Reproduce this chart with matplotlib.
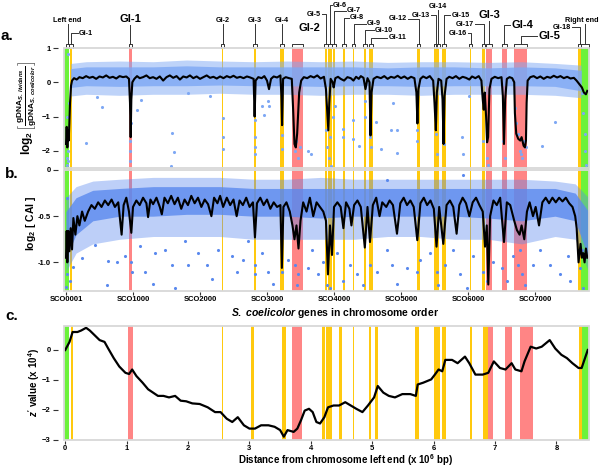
import matplotlib
matplotlib.use("Agg")
import matplotlib.pyplot as plt
from matplotlib.patches import Rectangle
from matplotlib.transforms import blended_transform_factory

plt.rcParams['font.family'] = ['Liberation Sans', 'DejaVu Sans']
plt.rcParams['font.weight'] = 'bold'
plt.rcParams['mathtext.fontset'] = 'custom'
plt.rcParams['mathtext.rm'] = 'Liberation Sans:bold'
plt.rcParams['mathtext.it'] = 'Liberation Sans:italic:bold'
plt.rcParams['mathtext.bf'] = 'Liberation Sans:bold'

# ---- islands: name, kind, gene range (panels a/b), Mb range (panel c)
isl_names = ['Left end', 'Gi-1', 'GI-1', 'Gi-2', 'Gi-3', 'Gi-4', 'GI-2', 'Gi-5', 'Gi-6',
             'Gi-7', 'Gi-8', 'Gi-9', 'Gi-10', 'Gi-11', 'Gi-12', 'Gi-13', 'Gi-14', 'Gi-15',
             'Gi-16', 'Gi-17', 'GI-3', 'GI-4', 'GI-5', 'Gi-18', 'Right end']
isl_kind = ['end', 'gi', 'GI', 'gi', 'gi', 'gi', 'GI', 'gi', 'gi', 'gi', 'gi', 'gi', 'gi',
            'gi', 'gi', 'gi', 'gi', 'gi', 'gi', 'gi', 'GI', 'GI', 'GI', 'gi', 'end']
isl_g0 = [-30, 55, 940, 2325, 2805, 3195, 3375, 3866, 3910, 3985, 4135, 4284, 4450, 4522,
          5240, 5493, 5537, 5612, 6030, 6209, 6269, 6507, 6687, 7642, 7687]
isl_g1 = [45, 90, 985, 2350, 2835, 3255, 3535, 3896, 3965, 4015, 4160, 4300, 4478, 4582,
          5285, 5537, 5567, 5672, 6045, 6254, 6358, 6582, 6881, 7687, 7806]
isl_m0 = [-0.02, 0.093, 1.027, 2.547, 3.03, 3.53, 3.70, 4.18, 4.25, 4.32, 4.46, 4.68, 4.95,
          5.04, 5.70, 6.01, 6.065, 6.13, 6.594, 6.81, 6.88, 7.17, 7.41, 8.37, 8.42]
isl_m1 = [0.062, 0.125, 1.10, 2.572, 3.08, 3.59, 3.86, 4.23, 4.31, 4.35, 4.50, 4.70, 4.975,
          5.10, 5.76, 6.065, 6.10, 6.195, 6.62, 6.88, 6.97, 7.27, 7.62, 8.42, 8.53]
kind_color = {'end': '#6cf23a', 'gi': '#ffc90e', 'GI': '#ff8585'}

# ---- panel a: log2 gDNA ratio, running line
a_gene = [0, 10, 20, 30, 40, 50, 60, 75, 90, 120, 160, 200, 250, 300, 350, 400, 450, 500,
          550, 600, 650, 700, 750, 800, 850, 900, 940, 955, 965, 975, 990, 1020, 1060, 1100,
          1150, 1200, 1250, 1300, 1350, 1400, 1450, 1500, 1550, 1600, 1650, 1700, 1750,
          1800, 1850, 1900, 1950, 2000, 2050, 2100, 2150, 2200, 2250, 2300, 2350, 2400,
          2450, 2500, 2550, 2600, 2650, 2700, 2750, 2800, 2815, 2830, 2870, 2920, 2960,
          3000, 3030, 3060, 3100, 3150, 3200, 3215, 3225, 3240, 3280, 3330, 3370, 3390,
          3410, 3430, 3450, 3480, 3510, 3550, 3600, 3650, 3700, 3750, 3800, 3850, 3880,
          3900, 3915, 3930, 3950, 3980, 3995, 4020, 4060, 4100, 4150, 4200, 4250, 4290,
          4330, 4370, 4400, 4440, 4470, 4500, 4530, 4545, 4560, 4590, 4640, 4700, 4750,
          4800, 4850, 4900, 4950, 5000, 5050, 5100, 5150, 5200, 5230, 5245, 5260, 5290,
          5330, 5380, 5430, 5480, 5500, 5520, 5535, 5560, 5600, 5620, 5635, 5650, 5680,
          5720, 5770, 5820, 5870, 5920, 5970, 6020, 6060, 6110, 6160, 6200, 6220, 6235,
          6250, 6270, 6285, 6300, 6320, 6350, 6400, 6450, 6500, 6520, 6537, 6555, 6580,
          6620, 6660, 6690, 6700, 6720, 6750, 6780, 6800, 6830, 6850, 6865, 6875, 6890,
          6930, 6980, 7030, 7080, 7130, 7180, 7230, 7280, 7330, 7380, 7430, 7480, 7530,
          7580, 7620, 7660, 7700, 7730, 7760, 7780]
a_val = [-1.8, -1.3, -1.9, -1.4, -1.7, -1.2, -0.6, -0.1, 0.05, 0.12, 0.08, 0.15, 0.12,
         0.18, 0.13, 0.16, 0.1, 0.17, 0.14, 0.2, 0.13, 0.16, 0.11, 0.18, 0.15, 0.17, 0.1,
         -0.6, -1.6, -0.5, 0.0, 0.1, 0.18, 0.12, 0.15, 0.2, 0.12, 0.15, 0.1, 0.17, 0.05,
         0.15, 0.2, 0.13, 0.18, 0.08, 0.17, 0.14, 0.2, 0.12, 0.17, 0.1, 0.15, 0.2, 0.13,
         0.16, 0.11, 0.17, 0.12, 0.18, 0.14, 0.19, 0.13, 0.16, 0.12, 0.17, 0.14, 0.1, -1.0,
         0.05, 0.15, 0.12, 0.18, 0.05, -0.2, 0.1, 0.17, 0.14, 0.2, -0.4, -1.25, 0.1, 0.15,
         0.12, 0.1, -0.8, -1.8, -1.9, -1.5, -0.3, 0.05, 0.15, 0.12, 0.18, 0.14, 0.2, 0.11,
         0.16, -0.2, -0.9, -1.4, -0.6, 0.1, 0.0, -0.15, 0.12, 0.16, 0.1, 0.05, 0.15, 0.12,
         0.05, 0.16, 0.1, 0.18, 0.13, -0.2, 0.12, 0.0, -1.55, -0.3, 0.1, 0.16, 0.12, 0.18,
         0.1, 0.16, 0.13, 0.19, 0.12, 0.17, 0.1, 0.16, 0.12, -0.3, -1.2, -0.2, 0.1, 0.17,
         0.12, 0.18, 0.05, -0.6, -1.4, -0.3, 0.1, 0.05, -0.5, -1.8, -0.4, 0.1, 0.16, 0.12,
         0.18, 0.1, 0.16, 0.13, 0.08, 0.17, 0.12, 0.18, 0.05, -0.5, -0.8, -0.3, -1.0, -1.75,
         -1.6, -0.2, 0.1, 0.16, 0.12, 0.15, -0.4, -1.8, -0.5, 0.1, 0.15, 0.12, 0.0, -0.9,
         -1.5, -1.65, -1.7, -1.6, -1.85, -1.9, -1.7, -0.6, 0.05, 0.15, 0.18, 0.12, 0.17,
         0.1, 0.16, 0.13, 0.19, 0.14, 0.18, 0.12, 0.16, 0.11, 0.13, 0.05, -0.05, -0.15,
         -0.3, -0.35, -0.25]

# dense cloud of genes around the running line (envelopes)
a_band_gene = [70, 300, 800, 1300, 1800, 2300, 2800, 3300, 3800, 4300, 4800, 5300, 5800,
               6300, 6800, 7300, 7690]
a_outer_hi = [0.55, 0.6, 0.62, 0.6, 0.65, 0.62, 0.6, 0.62, 0.6, 0.62, 0.58, 0.6, 0.6, 0.58,
              0.6, 0.55, 0.5]
a_outer_lo = [-0.4, -0.35, -0.38, -0.35, -0.35, -0.32, -0.35, -0.35, -0.38, -0.35, -0.35,
              -0.38, -0.35, -0.35, -0.35, -0.38, -0.45]
a_inner_hi = [0.4, 0.45, 0.45, 0.45, 0.48, 0.45, 0.45, 0.45, 0.45, 0.45, 0.42, 0.45, 0.45,
              0.42, 0.45, 0.42, 0.35]
a_inner_lo = [-0.15, -0.1, -0.12, -0.1, -0.1, -0.08, -0.1, -0.1, -0.12, -0.1, -0.1, -0.12,
              -0.1, -0.1, -0.1, -0.12, -0.25]
# scattered genes outside the cloud
a_pt_gene = [25, 10, 20, 30, 15, 40, 25, 35, 300, 542, 470, 960, 962, 958, 965, 1120, 1055,
             1577, 1612, 1570, 1821, 2149, 2340, 2338, 2342, 2820, 2818, 2822, 2825, 2920,
             2960, 3020, 3025, 3225, 3228, 3420, 3460, 3440, 3490, 3612, 3660, 3880, 3900,
             3920, 3940, 3960, 3990, 4020, 4134, 4140, 4284, 4290, 4373, 4460, 4465, 4540,
             4545, 4627, 4701, 4876, 4935, 4850, 4940, 5240, 5245, 5520, 5530, 5640, 5905,
             5930, 6020, 6220, 6290, 6300, 6520, 6545, 6700, 6720, 6740, 6770, 6790, 6810,
             6830, 6860, 7100, 7299, 7700, 7720, 7740, 7750, 7760]
a_pt_val = [0.82, -2.2, -2.4, -2.0, -1.0, -0.6, -2.3, -1.5, -1.77, -0.72, -0.44, -1.7, -2.0,
            -2.3, -1.2, -0.52, -0.81, -1.48, -2.03, -2.44, -0.3, -0.4, -1.05, -1.6, -1.95,
            -1.1, -1.6, -1.9, -2.1, -0.7, -0.95, -0.55, -0.7, -1.55, -1.95, -2.0, -2.2, -1.7,
            -1.9, -2.0, -2.1, -1.4, -1.9, -2.2, -1.6, -2.45, -1.0, -0.7, -1.35, -1.6, -1.1,
            -1.65, -1.85, -0.55, -1.0, -1.6, -1.9, -1.16, -1.95, -0.6, -2.05, -1.4, -1.38,
            -1.4, -1.7, -1.5, -2.1, -1.8, -1.6, -2.1, -0.4, -1.7, -2.2, -2.4, -1.7, -2.2,
            -0.75, -1.2, -1.5, -2.0, -2.1, -2.2, -1.7, -1.9, -1.85, -1.15, -0.3, -0.9, -1.5,
            -2.0, -2.4]

# ---- panel b: log2 CAI, running line
b_gene = [0, 10, 20, 35, 50, 70, 90, 110, 140, 170, 200, 240, 280, 330, 380, 430, 480, 530,
          580, 630, 680, 730, 780, 830, 860, 900, 940, 975, 1000, 1050, 1100, 1150, 1200,
          1225, 1260, 1300, 1350, 1400, 1430, 1470, 1520, 1570, 1620, 1670, 1720, 1770,
          1820, 1870, 1920, 1970, 2020, 2070, 2120, 2170, 2210, 2260, 2300, 2345, 2400,
          2450, 2500, 2547, 2590, 2640, 2690, 2740, 2790, 2820, 2850, 2900, 2950, 3000,
          3050, 3100, 3150, 3200, 3222, 3245, 3290, 3340, 3380, 3410, 3440, 3470, 3500,
          3540, 3590, 3640, 3690, 3740, 3790, 3840, 3880, 3910, 3940, 3970, 4000, 4050,
          4100, 4140, 4180, 4230, 4260, 4300, 4350, 4400, 4460, 4500, 4537, 4580, 4630,
          4680, 4720, 4780, 4830, 4880, 4940, 4990, 5040, 5090, 5140, 5190, 5243, 5290,
          5340, 5390, 5440, 5490, 5530, 5570, 5631, 5680, 5730, 5780, 5830, 5870, 5920,
          5970, 6020, 6070, 6120, 6170, 6220, 6254, 6280, 6303, 6330, 6380, 6430, 6480,
          6537, 6580, 6630, 6690, 6730, 6770, 6800, 6840, 6880, 6920, 6970, 7010, 7060,
          7110, 7160, 7210, 7260, 7310, 7360, 7410, 7460, 7510, 7560, 7600, 7622, 7650,
          7680, 7700, 7720, 7740, 7760, 7780]
b_val = [-0.95, -0.66, -1.0, -0.66, -0.88, -0.63, -0.86, -0.52, -0.7, -0.5, -0.6, -0.45,
         -0.55, -0.45, -0.38, -0.42, -0.35, -0.4, -0.33, -0.38, -0.32, -0.4, -0.35, -0.7,
         -0.38, -0.3, -0.45, -0.68, -0.4, -0.33, -0.38, -0.3, -0.36, -0.51, -0.32, -0.37,
         -0.3, -0.4, -0.48, -0.3, -0.36, -0.28, -0.37, -0.3, -0.42, -0.32, -0.38, -0.28,
         -0.36, -0.3, -0.4, -0.32, -0.37, -0.5, -0.3, -0.36, -0.28, -0.4, -0.3, -0.38,
         -0.32, -0.5, -0.33, -0.38, -0.3, -0.4, -0.35, -0.73, -0.36, -0.3, -0.38, -0.32,
         -0.42, -0.35, -0.4, -0.38, -1.06, -0.4, -0.35, -0.45, -0.6, -0.75, -0.6, -0.85,
         -0.55, -0.35, -0.45, -0.3, -0.5, -0.35, -0.4, -0.45, -0.55, -1.13, -0.6, -0.92,
         -0.4, -0.35, -0.4, -0.63, -0.35, -0.42, -0.6, -0.38, -0.33, -0.4, -0.84, -0.4,
         -0.78, -0.38, -0.3, -0.5, -0.35, -0.4, -0.33, -0.38, -0.69, -0.36, -0.3, -0.38,
         -0.33, -0.4, -0.76, -0.36, -0.3, -0.38, -0.33, -0.42, -0.83, -0.4, -0.8, -0.38,
         -0.33, -0.4, -0.69, -0.38, -0.3, -0.36, -0.5, -0.35, -0.3, -0.38, -0.45, -0.83,
         -0.6, -1.24, -0.5, -0.33, -0.38, -0.3, -0.78, -0.35, -0.38, -0.55, -0.65, -0.7,
         -0.6, -0.75, -0.45, -0.35, -0.5, -0.4, -0.6, -0.35, -0.3, -0.36, -0.3, -0.35,
         -0.3, -0.34, -0.3, -0.36, -0.4, -0.5, -0.63, -1.0, -0.8, -0.95, -0.9, -1.0, -0.85,
         -0.95]

b_band_gene = [0, 150, 400, 800, 1300, 1800, 2300, 2800, 3300, 3800, 4300, 4800, 5300,
               5800, 6300, 6800, 7300, 7600, 7800]
b_outer_hi = [-0.3, -0.18, -0.12, -0.1, -0.08, -0.08, -0.08, -0.1, -0.1, -0.08, -0.1, -0.1,
              -0.1, -0.1, -0.1, -0.1, -0.12, -0.15, -0.3]
b_outer_lo = [-1.1, -0.9, -0.8, -0.75, -0.72, -0.72, -0.72, -0.75, -0.75, -0.75, -0.75,
              -0.72, -0.72, -0.75, -0.75, -0.8, -0.72, -0.75, -1.1]
b_inner_hi = [-0.45, -0.3, -0.22, -0.2, -0.18, -0.18, -0.18, -0.2, -0.2, -0.2, -0.2, -0.2,
              -0.2, -0.2, -0.2, -0.2, -0.2, -0.25, -0.45]
b_inner_lo = [-0.95, -0.7, -0.55, -0.5, -0.5, -0.48, -0.48, -0.5, -0.5, -0.52, -0.5, -0.5,
              -0.5, -0.5, -0.52, -0.55, -0.5, -0.55, -0.95]
b_pt_gene = [10, 10, 0, 60, 110, 235, 433, 632, 607, 756, 880, 970, 980, 1104, 1179, 1303,
             1328, 1477, 1627, 1577, 1776, 1826, 1975, 2100, 2174, 2274, 2473, 2547, 2647,
             2720, 2820, 2825, 2920, 3020, 3095, 3220, 3320, 3420, 3470, 3445, 3617, 3766,
             3667, 3841, 3890, 3940, 4040, 4139, 4239, 4338, 4438, 4537, 4637, 4786, 4860,
             4945, 5085, 5234, 5284, 5433, 5532, 5557, 5657, 5781, 5880, 5980, 6080, 6229,
             6279, 6378, 6503, 6577, 6677, 6752, 6801, 6851, 6776, 6975, 7075, 7224, 7373,
             7522, 7498, 7672, 7721, 7697, 5930, 4786]
b_pt_val = [-0.3, -1.13, -1.27, -1.2, -1.05, -0.95, -0.81, -0.98, -1.24, -1.0, -0.93, -1.0,
            -1.1, -0.82, -1.1, -1.23, -0.9, -0.87, -1.28, -1.03, -0.77, -1.03, -0.9, -1.03,
            -1.18, -0.87, -0.93, -1.1, -0.97, -0.77, -1.03, -1.13, -0.9, -1.1, -1.23, -1.1,
            -0.97, -1.03, -1.13, -1.24, -1.06, -1.13, -0.87, -1.0, -1.24, -1.28, -0.9, -1.2,
            -1.03, -1.13, -1.24, -1.03, -1.1, -0.87, -1.03, -1.23, -1.06, -1.1, -0.97, -0.9,
            -1.1, -1.24, -1.03, -0.87, -1.13, -1.28, -0.93, -1.1, -1.2, -1.0, -1.06, -1.2,
            -0.93, -1.03, -1.13, -1.24, -0.87, -1.03, -0.87, -1.03, -1.13, -1.2, -0.93,
            -1.06, -1.28, -0.87, -0.05, -0.11]
b_tick_gene = [0, 1000, 2000, 3000, 4000, 5000, 6000, 7000]
b_tick_lab = ['SCO0001', 'SCO1000', 'SCO2000', 'SCO3000', 'SCO4000', 'SCO5000',
              'SCO6000', 'SCO7000']

# ---- panel c: cumulative z' value vs. position (Mb)
c_mb = [0.0, 0.07, 0.12, 0.2, 0.26, 0.34, 0.4, 0.48, 0.56, 0.64, 0.70, 0.79, 0.88, 0.98,
        1.04, 1.09, 1.16, 1.26, 1.35, 1.43, 1.51, 1.60, 1.69, 1.79, 1.88, 1.97, 2.07, 2.19,
        2.32, 2.44, 2.53, 2.63, 2.72, 2.81, 2.91, 3.00, 3.09, 3.19, 3.31, 3.41, 3.50, 3.56,
        3.62, 3.72, 3.78, 3.84, 3.90, 3.97, 4.03, 4.09, 4.15, 4.22, 4.28, 4.37, 4.46, 4.56,
        4.65, 4.74, 4.84, 4.93, 5.03, 5.09, 5.18, 5.27, 5.37, 5.49, 5.62, 5.71, 5.74, 5.83,
        5.96, 6.02, 6.08, 6.14, 6.19, 6.30, 6.39, 6.51, 6.58, 6.68, 6.80, 6.89, 6.98, 7.08,
        7.17, 7.27, 7.33, 7.43, 7.48, 7.58, 7.67, 7.76, 7.89, 7.98, 8.08, 8.17, 8.26, 8.36,
        8.41, 8.51]
c_z = [0.0, 0.27, 0.6, 0.6, 0.65, 0.74, 0.65, 0.49, 0.33, 0.27, 0.05, -0.27, -0.55, -0.76,
       -0.80, -0.65, -0.87, -1.09, -1.31, -1.42, -1.53, -1.53, -1.58, -1.53, -1.69, -1.71,
       -1.78, -1.80, -1.91, -2.07, -2.07, -2.29, -2.40, -2.24, -2.51, -2.62, -2.62, -2.51,
       -2.51, -2.56, -2.67, -2.89, -2.67, -2.73, -2.62, -2.34, -2.02, -1.96, -2.07, -2.40,
       -2.45, -2.24, -1.91, -1.85, -1.85, -1.74, -1.85, -1.96, -2.07, -1.85, -1.58, -1.20,
       -1.42, -1.53, -1.58, -1.47, -1.47, -1.53, -1.15, -1.09, -0.98, -0.82, -0.65, -0.71,
       -0.33, -0.33, -0.44, -0.22, -0.44, -0.82, -0.82, -0.76, -0.38, -0.60, -0.65, -0.44,
       -0.65, -0.71, -0.38, 0.11, 0.05, 0.11, 0.33, 0.05, -0.16, -0.27, -0.44, -0.60,
       -0.60, 0.0]

# ---- label layout above panel a (pixel rows of the figure)
lab_x = [15, 190, 962, 2337, 2820, 3225, 3470, 3800, 3985, 4195, 4240, 4495, 4615, 4810,
         5090, 5430, 5552, 5750, 5985, 6090, 6313, 6645, 7045, 7535, 7700]
lab_y = [20, 33, 19, 20, 20, 20, 28, 14, 5, 10.5, 17.5, 23.5, 30, 37.5, 18.5, 15, 6, 15, 33,
         24, 15, 25, 36, 27, 20]
lab_style = ['up', 'side', 'up', 'up', 'up', 'up', 'none', 'side', 'side', 'side', 'side',
             'side', 'side', 'side', 'side', 'side', 'up', 'side', 'side', 'side', 'up',
             'side', 'side', 'side', 'up']

W, H = 600, 470
fig = plt.figure(figsize=(W / 100, H / 100), dpi=100)


def rect(l, t, r, b):
    return [l / W, 1 - b / H, (r - l) / W, (b - t) / H]


ax_a = fig.add_axes(rect(64, 48, 589, 168))
ax_b = fig.add_axes(rect(64, 170, 589, 291))
ax_c = fig.add_axes(rect(64, 326, 589, 440))


def style(ax):
    for sp in ax.spines.values():
        sp.set_visible(False)
    ax.spines['left'].set_position(('outward', 4.5))
    ax.spines['bottom'].set_position(('outward', 0.5))
    ax.add_patch(Rectangle((0, 0), 1, 1, transform=ax.transAxes, fill=False,
                           ec='#d8d8d8', lw=1.3, zorder=6, clip_on=False))
    ax.tick_params(length=3.5, width=0.8, color='#333333', labelsize=5.5, pad=1.5)
    ax.tick_params(axis='x', length=2.2, pad=0.8)
    for lab in ax.get_xticklabels() + ax.get_yticklabels():
        lab.set_fontweight('bold')


for i in range(len(isl_names)):
    col = kind_color[isl_kind[i]]
    ax_a.axvspan(isl_g0[i], isl_g1[i], ymin=-0.02, color=col, lw=0, zorder=0, clip_on=False)
    ax_b.axvspan(isl_g0[i], isl_g1[i], color=col, lw=0, zorder=0)
    ax_c.axvspan(isl_m0[i], isl_m1[i], color=col, lw=0, zorder=0)

# panel a
ax_a.fill_between(a_band_gene, a_outer_lo, a_outer_hi, color='#7ea8f4', alpha=0.5, lw=0, zorder=1)
ax_a.fill_between(a_band_gene, a_inner_lo, a_inner_hi, color='#7ea8f4', alpha=0.8, lw=0, zorder=1)
ax_a.scatter(a_pt_gene, a_pt_val, s=5, color='#7ea8f4', lw=0, zorder=2)
ax_a.plot(a_gene, a_val, color='black', lw=1.5, zorder=3)
ax_a.set_xlim(-30, 7806)
ax_a.set_ylim(-2.5, 1.0)
ax_a.set_yticks([1, 0, -1, -2])
ax_a.set_xticks([])
style(ax_a)

# panel b
ax_b.fill_between(b_band_gene, b_outer_lo, b_outer_hi, color='#5a89ee', alpha=0.4, lw=0, zorder=1)
ax_b.fill_between(b_band_gene, b_inner_lo, b_inner_hi, color='#5a89ee', alpha=0.8, lw=0, zorder=1)
ax_b.scatter(b_pt_gene, b_pt_val, s=5, color='#5a89ee', lw=0, zorder=2)
ax_b.plot(b_gene, b_val, color='black', lw=1.5, zorder=3)
ax_b.set_xlim(-30, 7806)
ax_b.set_ylim(-1.31, 0.0)
ax_b.set_yticks([0, -0.5, -1.0])
ax_b.set_yticklabels(['0', '-0.5', '-1.0'])
ax_b.set_xticks(b_tick_gene)
ax_b.set_xticklabels(b_tick_lab)
style(ax_b)

# panel c
ax_c.plot(c_mb, c_z, color='black', lw=1.6, zorder=3)
ax_c.set_xlim(-0.02, 8.53)
ax_c.set_ylim(-3.0, 0.8)
ax_c.set_yticks([0, -1, -2, -3])
ax_c.set_xticks(range(9))
style(ax_c)

# island brackets and labels above panel a
tr = blended_transform_factory(ax_a.transData, ax_a.transAxes)


def fy(py):
    return (168 - py) / 120


for i in range(len(isl_names)):
    g0, g1 = isl_g0[i], isl_g1[i]
    if isl_names[i] == 'Left end':
        g0 = 0
    mid = (g0 + g1) / 2
    if g1 - g0 < 55:
        g0, g1 = mid - 27, mid + 27
    ax_a.plot([g0, g0, g1, g1], [fy(48), fy(43.5), fy(43.5), fy(48)], color='#333333',
              lw=0.7, transform=tr, clip_on=False)
    big = isl_kind[i] == 'GI'
    fs = 8 if big else 5.2
    st = lab_style[i]
    if st == 'up':
        top = lab_y[i] + (6 if big else 4)
        ax_a.plot([mid, mid], [fy(43.5), fy(top)], color='#333333', lw=0.7,
                  transform=tr, clip_on=False)
        ax_a.text(lab_x[i], fy(lab_y[i]), isl_names[i], transform=tr, ha='center',
                  va='center', fontsize=fs, fontweight='bold')
    elif st == 'side':
        lx = lab_x[i]
        ha = 'left' if lx > mid else 'right'
        gap = 15 if ha == 'left' else -15
        ax_a.plot([mid, mid, lx - gap], [fy(43.5), fy(lab_y[i]), fy(lab_y[i])],
                  color='#333333', lw=0.7, transform=tr, clip_on=False)
        ax_a.text(lx, fy(lab_y[i]), isl_names[i], transform=tr, ha=ha, va='center',
                  fontsize=fs, fontweight='bold')
    else:
        ax_a.text(lab_x[i], fy(lab_y[i]), isl_names[i], transform=tr, ha='left',
                  va='center', fontsize=fs, fontweight='bold')

# axis labels and panel letters
fig.text(27 / W, 1 - 108 / H,
         r'$\log_2\left[\frac{\mathrm{gDNA}_{\mathit{S.\ lividans}}}{\mathrm{gDNA}_{\mathit{S.\ coelicolor}}}\right]$',
         rotation=90, ha='center', va='center', fontsize=8.5)
fig.text(31 / W, 1 - 223 / H, r'$\log_2\,[\ \mathrm{CAI}\ ]$', rotation=90, ha='center',
         va='center', fontsize=7.5)
fig.text(34 / W, 1 - 383 / H, r"$\mathit{z'}$ value (x 10$^4$)", rotation=90,
         ha='center', va='center', fontsize=7)
fig.text(335 / W, 1 - 313 / H, r'$\mathit{S.\ coelicolor}$ genes in chromosome order',
         ha='center', va='center', fontsize=7.5)
fig.text(345 / W, 2 / H, r'Distance from chromosome left end (x 10$^6$ bp)',
         ha='center', va='bottom', fontsize=7)
fig.text(7 / W, 1 - 36 / H, 'a.', fontsize=11, fontweight='bold', ha='center', va='center')
fig.text(12 / W, 1 - 174 / H, 'b.', fontsize=11, fontweight='bold', ha='center', va='center')
fig.text(12 / W, 1 - 316 / H, 'c.', fontsize=11, fontweight='bold', ha='center', va='center')

fig.savefig('out.png', dpi=100)
